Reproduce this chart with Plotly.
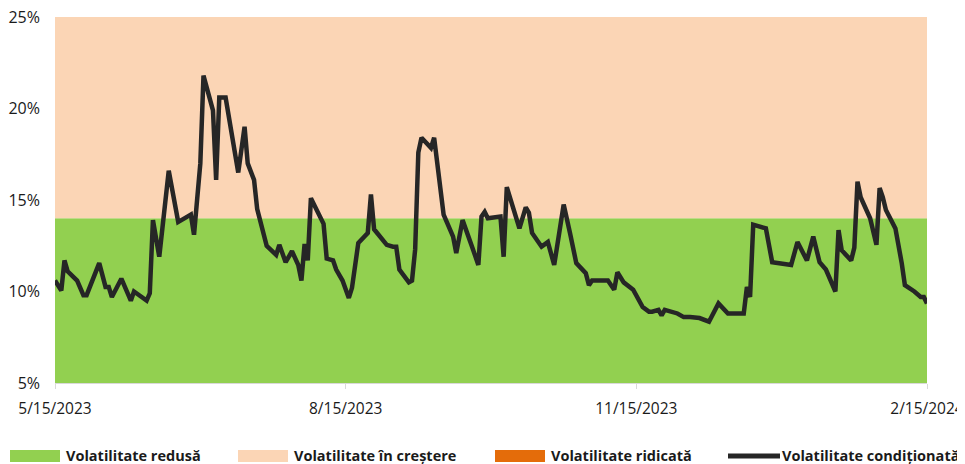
import plotly.graph_objects as go

# conditional volatility series, % annualised
dates = [
    "2023-05-15", "2023-05-17", "2023-05-18", "2023-05-19", "2023-05-22", "2023-05-24", "2023-05-25",
    "2023-05-29", "2023-05-31", "2023-06-01", "2023-06-02", "2023-06-05", "2023-06-08", "2023-06-09",
    "2023-06-13", "2023-06-14", "2023-06-15", "2023-06-17", "2023-06-20", "2023-06-23", "2023-06-24",
    "2023-06-27", "2023-06-28", "2023-06-30", "2023-07-01", "2023-07-04", "2023-07-05", "2023-07-06",
    "2023-07-08", "2023-07-10", "2023-07-12", "2023-07-14", "2023-07-15", "2023-07-17", "2023-07-18",
    "2023-07-21", "2023-07-24", "2023-07-25", "2023-07-27", "2023-07-29", "2023-07-31", "2023-08-01",
    "2023-08-02", "2023-08-03", "2023-08-04", "2023-08-08", "2023-08-09", "2023-08-11", "2023-08-12",
    "2023-08-14", "2023-08-16", "2023-08-17", "2023-08-19", "2023-08-22", "2023-08-23", "2023-08-24",
    "2023-08-26", "2023-08-28", "2023-08-30", "2023-08-31", "2023-09-01", "2023-09-04", "2023-09-05",
    "2023-09-06", "2023-09-07", "2023-09-08", "2023-09-11", "2023-09-12", "2023-09-15", "2023-09-18",
    "2023-09-19", "2023-09-21", "2023-09-24", "2023-09-26", "2023-09-27", "2023-09-28", "2023-09-29",
    "2023-10-03", "2023-10-04", "2023-10-05", "2023-10-09", "2023-10-11", "2023-10-12", "2023-10-13",
    "2023-10-16", "2023-10-18", "2023-10-20", "2023-10-23", "2023-10-25", "2023-10-27", "2023-10-30",
    "2023-10-31", "2023-11-01", "2023-11-06", "2023-11-08", "2023-11-09", "2023-11-11", "2023-11-14",
    "2023-11-17", "2023-11-19", "2023-11-20", "2023-11-22", "2023-11-23", "2023-11-24", "2023-11-28",
    "2023-11-30", "2023-12-02", "2023-12-05", "2023-12-08", "2023-12-11", "2023-12-14", "2023-12-19",
    "2023-12-20", "2023-12-21", "2023-12-22", "2023-12-26", "2023-12-28", "2024-01-03", "2024-01-05",
    "2024-01-08", "2024-01-10", "2024-01-12", "2024-01-14", "2024-01-17", "2024-01-18", "2024-01-19",
    "2024-01-22", "2024-01-23", "2024-01-24", "2024-01-25", "2024-01-28", "2024-01-30", "2024-01-31",
    "2024-02-01", "2024-02-02", "2024-02-05", "2024-02-07", "2024-02-08", "2024-02-11", "2024-02-13",
    "2024-02-14", "2024-02-15",
]
volatility = [
    10.6, 10.05, 11.7, 11.1, 10.6, 9.8, 9.8,
    11.55, 10.25, 10.25, 9.7, 10.7, 9.5, 10.0,
    9.5, 9.9, 13.9, 11.9, 16.6, 13.8, 13.9,
    14.2, 13.1, 17.0, 21.8, 19.9, 16.1, 20.6,
    20.6, 18.4, 16.5, 19.0, 17.0, 16.1, 14.5,
    12.5, 12.0, 12.55, 11.6, 12.2, 11.45, 10.6,
    12.6, 11.7, 15.1, 13.7, 11.8, 11.7, 11.2,
    10.6, 9.65, 10.2, 12.65, 13.2, 15.3, 13.4,
    13.0, 12.55, 12.45, 12.45, 11.2, 10.5, 10.6,
    12.3, 17.6, 18.4, 17.85, 18.4, 14.2, 13.0,
    12.1, 13.9, 12.45, 11.45, 14.1, 14.35, 14.0,
    14.1, 11.9, 15.7, 13.45, 14.6, 14.3, 13.2,
    12.45, 12.7, 11.45, 14.75, 13.2, 11.55, 11.0,
    10.35, 10.6, 10.6, 10.1, 11.05, 10.5, 10.1,
    9.15, 8.9, 8.9, 9.0, 8.7, 9.0, 8.8,
    8.6, 8.6, 8.55, 8.35, 9.35, 8.8, 8.8,
    10.25, 9.7, 13.65, 13.45, 11.6, 11.45, 12.7,
    11.7, 13.0, 11.6, 11.2, 10.0, 13.35, 12.25,
    11.7, 12.4, 16.0, 15.15, 14.0, 12.55, 15.65,
    15.15, 14.45, 13.45, 11.55, 10.35, 10.0, 9.7,
    9.7, 9.35,
]

# regime bands (upper bounds, %)
band_dates = ["2023-05-15", "2024-02-15"]
low_top = [14, 14]
rising_top = [25, 25]

x_tickvals = ["2023-05-15", "2023-08-15", "2023-11-15", "2024-02-15"]
x_ticktext = ["5/15/2023", "8/15/2023", "11/15/2023", "2/15/2024"]
y_tickvals = [5, 10, 15, 20, 25]
y_ticktext = ["5%", "10%", "15%", "20%", "25%"]

legend_names = ["Volatilitate redusă", "Volatilitate în creștere", "Volatilitate ridicată", "Volatilitate condiționată"]

colors = dict(green="#92D050", peach="#FBD5B5", orange="#E46C0A", line="#262626", text="#1a1a1a", axis="#D9D9D9")
FONT = "Open Sans"

# the page body adds an 8px margin, so the figure is sized to the window minus that offset
PAGE_OFF = 8
W, H = 965 - PAGE_OFF, 464 - PAGE_OFF
L, R, T, B = 55 - PAGE_OFF, 38, 17 - PAGE_OFF, 81


def px_to_paper(px, py):
    # window pixel -> paper coordinates
    fx, fy = px - PAGE_OFF, py - PAGE_OFF
    return (fx - L) / (W - L - R), (H - B - fy) / (H - T - B)


fig = go.Figure()
fig.add_trace(go.Scatter(x=band_dates, y=low_top, mode="lines", line=dict(width=0),
                         fill="tozeroy", fillcolor=colors["green"], hoverinfo="skip", name=legend_names[0]))
fig.add_trace(go.Scatter(x=band_dates, y=rising_top, mode="lines", line=dict(width=0),
                         fill="tonexty", fillcolor=colors["peach"], hoverinfo="skip", name=legend_names[1]))
fig.add_trace(go.Scatter(x=dates, y=volatility, mode="lines", line=dict(color=colors["line"], width=4.5),
                         name=legend_names[3], hovertemplate="%{x|%m/%d/%Y}<br>%{y:.1f}%<extra></extra>"))

# hand-drawn legend row (wide Excel-style swatches)
swatches = [(10, 60, colors["green"], "rect"), (238, 288, colors["peach"], "rect"),
            (495, 545, colors["orange"], "rect"), (728, 780, colors["line"], "line")]
text_x = [64, 292, 549, 780]
ymid = 456
for (x0, x1, col, kind), label, tx in zip(swatches, legend_names, text_x):
    if kind == "rect":
        a0, b0 = px_to_paper(x0, ymid + 6)
        a1, b1 = px_to_paper(x1, ymid - 6)
        fig.add_shape(type="rect", xref="paper", yref="paper", x0=a0, x1=a1, y0=b0, y1=b1,
                      fillcolor=col, line=dict(width=0), layer="above")
    else:
        a0, b0 = px_to_paper(x0, ymid)
        a1, _ = px_to_paper(x1, ymid)
        fig.add_shape(type="line", xref="paper", yref="paper", x0=a0, x1=a1, y0=b0, y1=b0,
                      line=dict(color=col, width=5), layer="above")
    ax, ay = px_to_paper(tx, ymid - 1)
    fig.add_annotation(xref="paper", yref="paper", x=ax, y=ay, xanchor="left", yanchor="middle",
                       text=f"<b>{label}</b>", showarrow=False,
                       font=dict(family=FONT, size=14.5, color=colors["text"]))

fig.update_layout(
    width=W,
    height=H,
    margin=dict(l=L, r=R, t=T, b=B, autoexpand=False),
    paper_bgcolor="white",
    plot_bgcolor="white",
    showlegend=False,
    font=dict(family=FONT, size=16, color=colors["text"]),
    xaxis=dict(
        type="date",
        range=["2023-05-15", "2024-02-15"],
        tickvals=x_tickvals,
        ticktext=x_ticktext,
        automargin=False,
        ticklabeloverflow="allow",
        showgrid=False,
        zeroline=False,
        showline=True,
        linecolor=colors["axis"],
        linewidth=1,
        ticks="outside",
        ticklen=5,
        tickcolor=colors["axis"],
        ticklabelstandoff=6,
        tickfont=dict(family=FONT, size=15.5, color=colors["text"]),
    ),
    yaxis=dict(
        range=[5, 25],
        tickvals=y_tickvals,
        ticktext=y_ticktext,
        automargin=False,
        ticklabeloverflow="allow",
        showgrid=False,
        zeroline=False,
        showline=False,
        ticklabelstandoff=14,
        tickfont=dict(family=FONT, size=16, color=colors["text"]),
    ),
)

fig.write_html("out.html")
